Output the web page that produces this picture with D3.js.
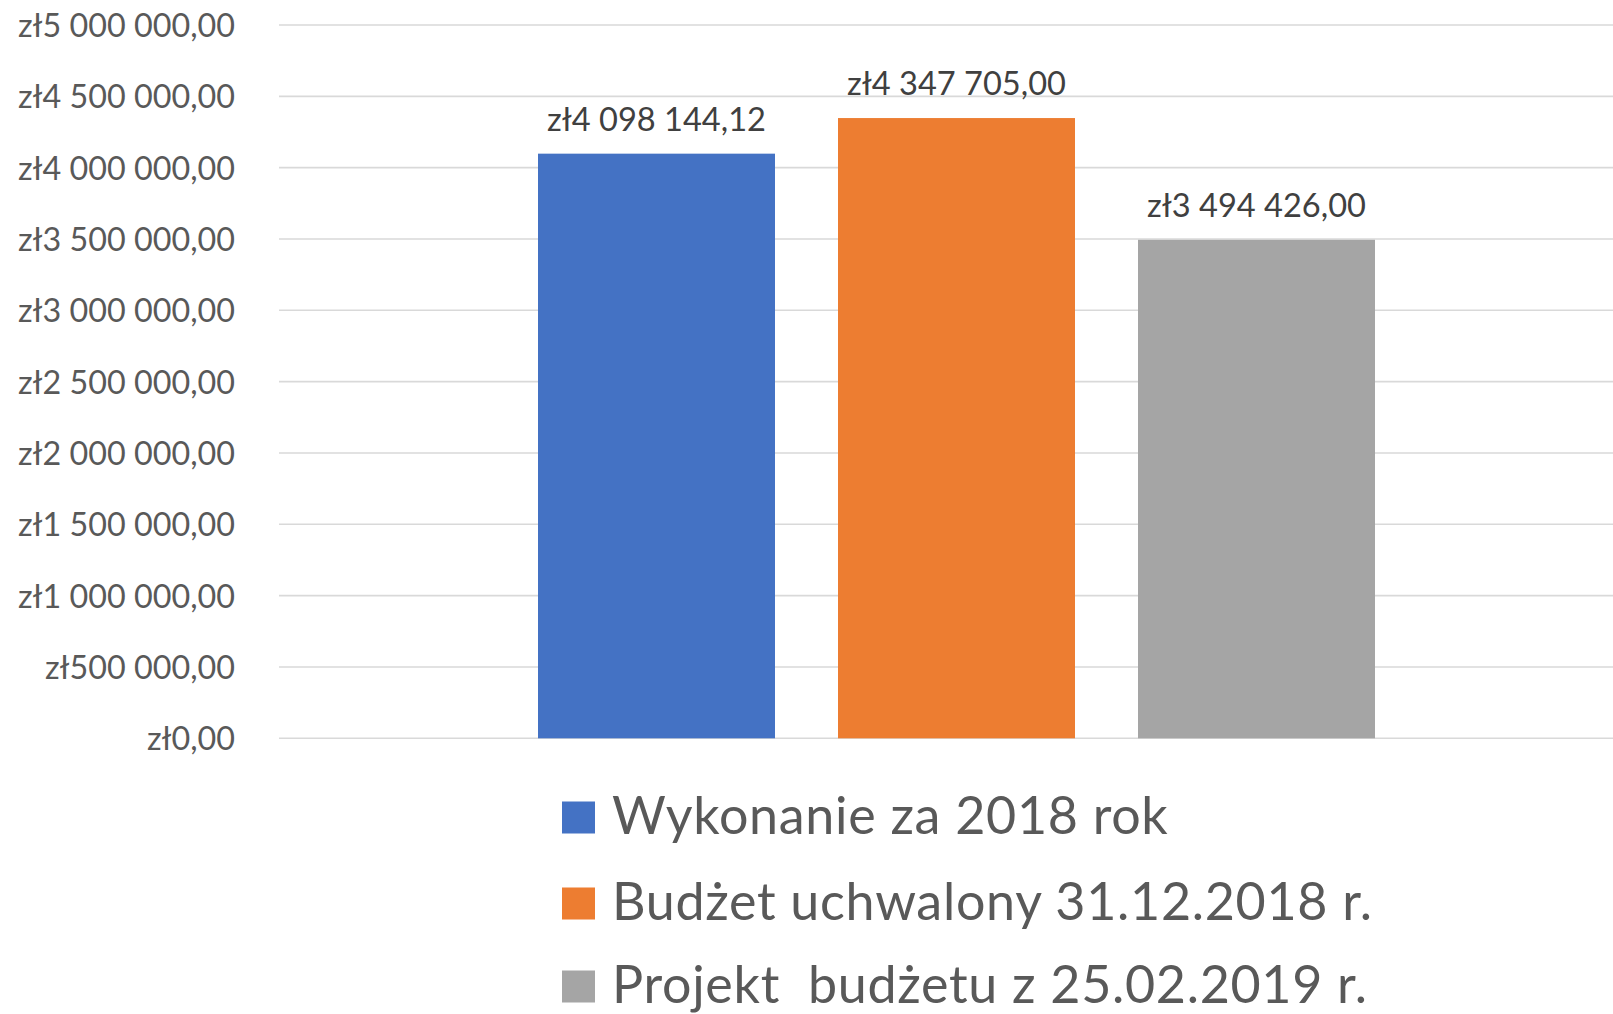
<!DOCTYPE html>
<html>
<head>
<meta charset="utf-8">
<script src="https://cdn.jsdelivr.net/npm/d3@7"></script>
<style>
  html, body { margin: 0; padding: 0; background: #fff; }
  svg { display: block; }
  text { font-family: Lato, "Open Sans", sans-serif; }
</style>
</head>
<body>
<svg id="chart" width="1613" height="1014"></svg>
<script>
// ---- data ----
const seriesNames = [
  "Wykonanie za 2018 rok",
  "Budżet uchwalony 31.12.2018 r.",
  "Projekt  budżetu z 25.02.2019 r."
];
const seriesValues = [4098144.12, 4347705.00, 3494426.00];
const seriesColors = ["#4472C4", "#ED7D31", "#A5A5A5"];
const yTicks = [0, 500000, 1000000, 1500000, 2000000, 2500000, 3000000, 3500000, 4000000, 4500000, 5000000];

// ---- formatting (Polish currency, "zł" prefix, space thousands, comma decimals) ----
const plLocale = d3.formatLocale({
  decimal: ",", thousands: " ", grouping: [3], currency: ["zł", ""]
});
const fmt = plLocale.format("$,.2f");

// ---- layout ----
const svg = d3.select("#chart");
const plotLeft = 279, plotRight = 1613;
const yTop = 25, yBottom = 738.3;

const y = d3.scaleLinear().domain([0, 5000000]).range([yBottom, yTop]);
const x = d3.scaleBand()
  .domain(seriesNames)
  .range([475, 1438])
  .paddingInner(0.21)
  .paddingOuter(0.21);

// gridlines
svg.append("g").selectAll("line")
  .data(yTicks)
  .join("line")
  .attr("x1", plotLeft).attr("x2", plotRight)
  .attr("y1", d => y(d)).attr("y2", d => y(d))
  .attr("stroke", "#d9d9d9")
  .attr("stroke-width", 1.6);

// y axis labels
const yAxis = d3.axisLeft(y).tickValues(yTicks).tickFormat(fmt).tickSize(0).tickPadding(0);
const gAxis = svg.append("g").attr("transform", "translate(235,0)").call(yAxis);
gAxis.select(".domain").remove();
gAxis.selectAll("text")
  .attr("x", 0)
  .attr("dy", "0.36em")
  .attr("fill", "#595959")
  .style("font-family", "Lato, sans-serif")
  .style("font-size", "32.3px");

// bars
const data = seriesNames.map((n, i) => ({ name: n, value: seriesValues[i], color: seriesColors[i] }));
svg.append("g").selectAll("rect")
  .data(data)
  .join("rect")
  .attr("x", d => x(d.name))
  .attr("width", x.bandwidth())
  .attr("y", d => y(d.value))
  .attr("height", d => y(0) - y(d.value))
  .attr("fill", d => d.color);

// data labels
svg.append("g").selectAll("text")
  .data(data)
  .join("text")
  .attr("x", d => x(d.name) + x.bandwidth() / 2)
  .attr("y", d => y(d.value) - 23)
  .attr("text-anchor", "middle")
  .attr("fill", "#404040")
  .style("font-size", "32.6px")
  .text(d => fmt(d.value));

// legend
const legend = svg.append("g").attr("transform", "translate(562,0)");
const rowY = [833.5, 919.5, 1002.5];
const items = legend.selectAll("g")
  .data(data)
  .join("g")
  .attr("transform", (d, i) => `translate(0,${rowY[i]})`);
items.append("rect")
  .attr("x", 0).attr("y", -32)
  .attr("width", 33).attr("height", 32)
  .attr("fill", d => d.color);
items.append("text")
  .attr("x", 50)
  .attr("y", 0)
  .attr("fill", "#595959")
  .style("font-size", "52px")
  .style("letter-spacing", "0.7px")
  .style("white-space", "pre")
  .text(d => d.name);
</script>
</body>
</html>
